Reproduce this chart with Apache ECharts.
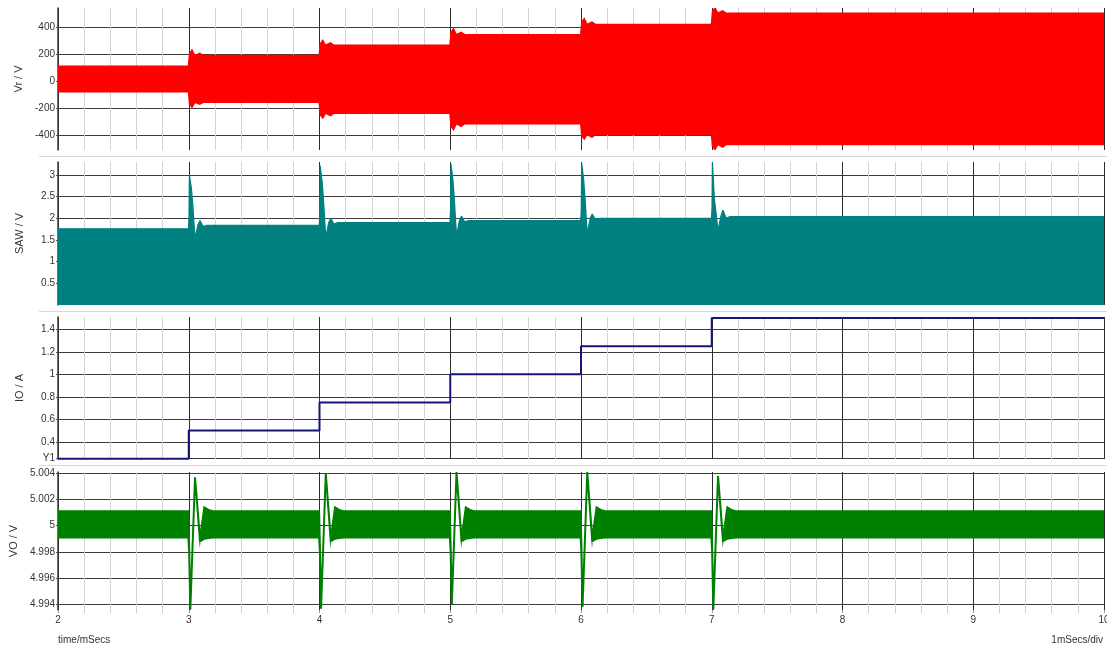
<!DOCTYPE html>
<html>
<head>
<meta charset="utf-8">
<script src="https://cdn.jsdelivr.net/npm/echarts@6/dist/echarts.min.js"></script>
<style>
  html, body { margin: 0; padding: 0; background: #fff; }
  #chart { width: 1107px; height: 648px; }
</style>
</head>
<body>
<div id="chart"></div>
<script>
// ---- Vr / V : switching envelope (upper / lower bounds) ----
const vrTime = [2.0,
  2.998, 3.006, 3.025, 3.046, 3.084, 3.11,
  3.998, 4.006, 4.025, 4.046, 4.084, 4.11,
  4.998, 5.006, 5.025, 5.046, 5.084, 5.11,
  5.998, 6.006, 6.025, 6.046, 6.084, 6.11,
  6.998, 7.006, 7.025, 7.046, 7.084, 7.11,
  10.0];
const vrHigh = [110,
  110, 200, 230, 187, 205, 189,
  189, 275, 301, 265, 282, 265,
  265, 360, 387, 343, 360, 343,
  343, 435, 461, 419, 436, 419,
  419, 515, 541, 502, 520, 502,
  502];
const vrLow = [-80,
  -80, -170, -193, -158, -172, -158,
  -158, -250, -274, -238, -257, -238,
  -238, -335, -360, -316, -335, -316,
  -316, -405, -429, -397, -415, -397,
  -397, -485, -507, -470, -490, -470,
  -470];

// ---- SAW / V : upper envelope of the ramp ----
const sawTime = [2.0,
  2.998, 3.002, 3.005, 3.015, 3.02, 3.03, 3.048, 3.07, 3.086, 3.11, 3.14,
  3.998, 4.002, 4.005, 4.015, 4.02, 4.03, 4.048, 4.07, 4.086, 4.11, 4.14,
  4.998, 5.002, 5.005, 5.015, 5.02, 5.03, 5.048, 5.07, 5.086, 5.11, 5.14,
  5.998, 6.002, 6.005, 6.015, 6.02, 6.03, 6.048, 6.07, 6.086, 6.11, 6.14,
  6.998, 7.002, 7.005, 7.015, 7.02, 7.03, 7.048, 7.07, 7.086, 7.11, 7.14,
  10.0];
const sawHigh = [1.76,
  1.76, 2.05, 3.0, 3.0, 2.7, 2.35, 1.54, 1.85, 1.95, 1.81, 1.84,
  1.84, 2.1, 3.22, 3.2, 2.85, 2.45, 1.56, 1.9, 2.0, 1.87, 1.90,
  1.90, 2.15, 3.26, 3.24, 2.9, 2.5, 1.60, 1.95, 2.05, 1.92, 1.95,
  1.95, 2.2, 3.28, 3.26, 2.9, 2.5, 1.64, 2.0, 2.10, 1.97, 2.00,
  2.00, 2.25, 3.3, 3.3, 2.45, 2.2, 1.72, 2.05, 2.19, 2.0, 2.04,
  2.04];

// ---- IO / A : load current steps ----
const ioTime = [2, 3, 4, 5, 6, 7, 10];
const ioValue = [0.25, 0.5, 0.75, 1.0, 1.25, 1.5, 1.5];

// ---- VO / V : output ripple envelope with load-step ringing ----
const voTime = [2.0,
  2.997, 3.003, 3.012, 3.048, 3.086, 3.119, 3.15, 3.185,
  3.997, 4.003, 4.012, 4.048, 4.086, 4.119, 4.15, 4.185,
  4.997, 5.003, 5.012, 5.048, 5.086, 5.119, 5.15, 5.185,
  5.997, 6.003, 6.012, 6.048, 6.086, 6.119, 6.15, 6.185,
  6.997, 7.003, 7.012, 7.048, 7.086, 7.119, 7.15, 7.185,
  10.0];
const voHigh = [5.0011,
  5.0011, 4.9985, 4.99358, 5.0037, 4.9990, 5.0014, 5.0012, 5.0011,
  5.0011, 4.9985, 4.99365, 5.0040, 4.9990, 5.0014, 5.0012, 5.0011,
  5.0011, 4.9985, 4.9940, 5.0041, 4.9990, 5.0014, 5.0012, 5.0011,
  5.0011, 4.9985, 4.9938, 5.0041, 4.9990, 5.0014, 5.0012, 5.0011,
  5.0011, 4.9985, 4.99358, 5.0038, 4.9990, 5.0014, 5.0012, 5.0011,
  5.0011];
const voLow = [4.9991,
  4.9991, 4.9980, 4.99358, 5.0037, 4.9988, 4.9990, 4.99905, 4.9991,
  4.9991, 4.9980, 4.99365, 5.0040, 4.9988, 4.9990, 4.99905, 4.9991,
  4.9991, 4.9980, 4.9940, 5.0041, 4.9988, 4.9990, 4.99905, 4.9991,
  4.9991, 4.9980, 4.9938, 5.0041, 4.9988, 4.9990, 4.99905, 4.9991,
  4.9991, 4.9980, 4.99358, 5.0038, 4.9988, 4.9990, 4.99905, 4.9991,
  4.9991];

// ---- tick labels ----
const vrTicks = [-400, -200, 0, 200, 400];
const sawTicks = [0.5, 1, 1.5, 2, 2.5, 3];
const ioTicks = [0.25, 0.4, 0.6, 0.8, 1, 1.2, 1.4];
const voTicks = [4.994, 4.996, 4.998, 5, 5.002, 5.004];

const FONT = 'Liberation Sans, Arial, sans-serif';
const TXT = '#333';

const grids = [
  { left: 58, right: 3, top: 8, height: 142, outerBoundsMode: 'none' },
  { left: 58, right: 3, top: 162, height: 143, outerBoundsMode: 'none' },
  { left: 58, right: 3, top: 317, height: 142, outerBoundsMode: 'none' },
  { left: 58, right: 3, top: 472, height: 138, outerBoundsMode: 'none' }
];

function makeX(i, bottom) {
  return {
    type: 'value', gridIndex: i, min: 2, max: 10, interval: 1,
    axisLine: { show: false },
    axisTick: { show: bottom, length: 3, lineStyle: { color: '#999' } },
    minorTick: { show: bottom, splitNumber: 5, length: 3, lineStyle: { color: '#ccc' } },
    axisLabel: { show: bottom, fontSize: 10, fontFamily: FONT, color: TXT, margin: 5, hideOverlap: false },
    splitLine: { show: true, lineStyle: { color: '#2e2e2e', width: 1 } },
    minorSplitLine: { show: true, lineStyle: { color: '#d2d2d2', width: 1 } }
  };
}

function makeY(i, name, min, max, ticks, fmt) {
  return {
    type: 'value', gridIndex: i, min: min, max: max,
    name: name, nameLocation: 'middle', nameGap: 33,
    nameTextStyle: { fontSize: 11, fontFamily: FONT, color: TXT },
    axisLine: { show: true, lineStyle: { color: '#3a3a3a', width: 1.5 } },
    axisTick: { show: true, length: 2, customValues: ticks, lineStyle: { color: '#555' } },
    axisLabel: { fontSize: 10, fontFamily: FONT, color: TXT, margin: 3, customValues: ticks,
      formatter: fmt || (v => String(v)) },
    splitLine: { show: true, lineStyle: { color: '#3c3c3c', width: 1 } }
  };
}

// filled band between a lower and an upper envelope
function band(i, times, high, low, color, width) {
  return {
    type: 'custom', xAxisIndex: i, yAxisIndex: i, clip: true, silent: true,
    data: times.map((t, k) => [t, low[k], high[k]]),
    encode: { x: 0, y: [1, 2] },
    renderItem: function (params, api) {
      if (params.dataIndex !== 0) return null;
      const top = times.map((t, k) => api.coord([t, high[k]]));
      const bot = times.map((t, k) => api.coord([t, low[k]])).reverse();
      return {
        type: 'polygon',
        shape: { points: top.concat(bot) },
        style: { fill: color, stroke: color, lineWidth: width }
      };
    }
  };
}

const chart = echarts.init(document.getElementById('chart'), null, { renderer: 'canvas' });

chart.setOption({
  animation: false,
  backgroundColor: '#fff',
  grid: grids,
  xAxis: [makeX(0, false), makeX(1, false), makeX(2, false), makeX(3, true)],
  yAxis: [
    makeY(0, 'Vr / V', -511, 541, vrTicks),
    makeY(1, 'SAW / V', 0, 3.3, sawTicks),
    makeY(2, 'IO / A', 0.247, 1.51, ioTicks, v => (Math.abs(v - 0.25) < 1e-9 ? 'Y1' : String(v))),
    makeY(3, 'VO / V', 4.99355, 5.0041, voTicks)
  ],
  series: [
    band(0, vrTime, vrHigh, vrLow, '#ff0000', 1.5),
    {
      type: 'line', xAxisIndex: 1, yAxisIndex: 1, silent: true,
      data: sawTime.map((t, k) => [t, sawHigh[k]]),
      showSymbol: false,
      lineStyle: { color: '#008080', width: 1.2 },
      areaStyle: { color: '#008080', opacity: 1, origin: 'start' }
    },
    {
      type: 'line', xAxisIndex: 2, yAxisIndex: 2, silent: true, step: 'end',
      data: ioTime.map((t, k) => [t, ioValue[k]]),
      showSymbol: false,
      lineStyle: { color: '#15157a', width: 2 }
    },
    band(3, voTime, voHigh, voLow, '#008000', 2)
  ],
  graphic: [
    { type: 'line', shape: { x1: 39, y1: 156.5, x2: 1107, y2: 156.5 }, style: { stroke: '#d8d8d8', lineWidth: 1 } },
    { type: 'line', shape: { x1: 39, y1: 311.5, x2: 1107, y2: 311.5 }, style: { stroke: '#d8d8d8', lineWidth: 1 } },
    { type: 'line', shape: { x1: 39, y1: 465.5, x2: 1107, y2: 465.5 }, style: { stroke: '#d8d8d8', lineWidth: 1 } },
    { type: 'text', left: 58, top: 635, style: { text: 'time/mSecs', font: '10px ' + FONT, fill: TXT } },
    { type: 'text', right: 4, top: 635, style: { text: '1mSecs/div', font: '10px ' + FONT, fill: TXT } }
  ]
});
</script>
</body>
</html>
